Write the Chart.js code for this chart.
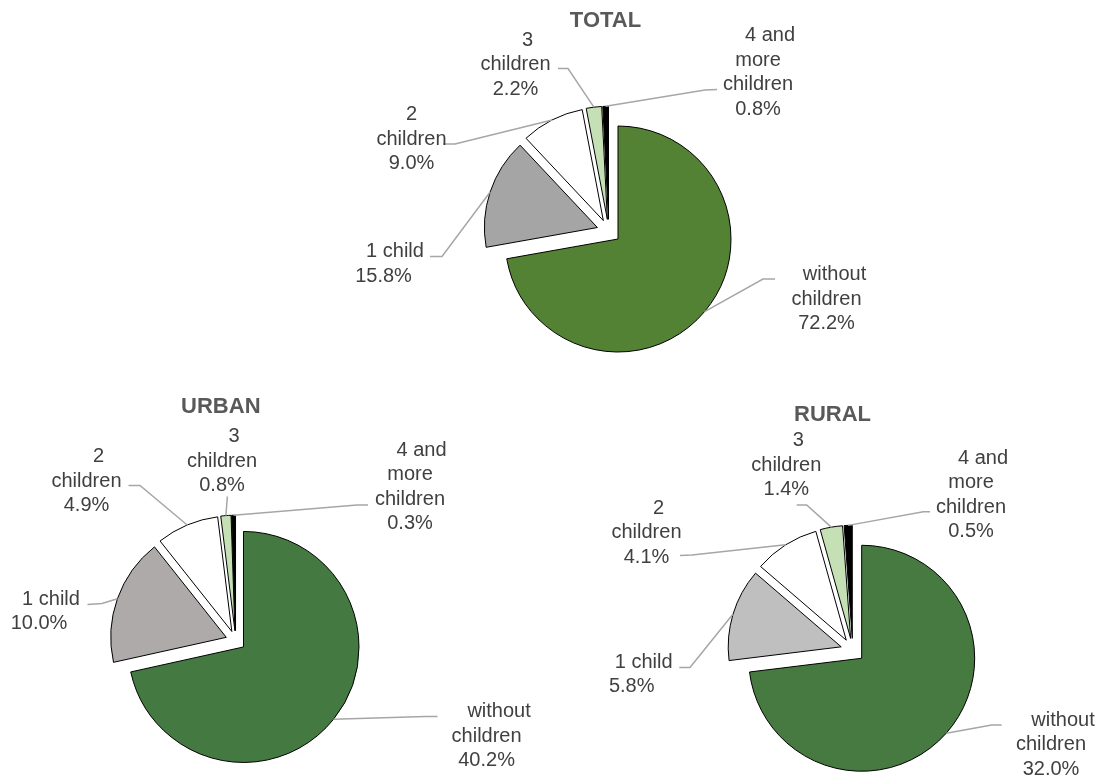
<!DOCTYPE html>
<html>
<head>
<meta charset="utf-8">
<script src="https://cdn.jsdelivr.net/npm/chart.js@4.4.1/dist/chart.umd.min.js"></script>
<style>
  html, body { margin: 0; padding: 0; background: #fff; }
  #wrap { position: relative; width: 1102px; height: 776px; }
  #wrap canvas { position: absolute; left: 0; top: 0; }
</style>
</head>
<body>
<div id="wrap">
  <canvas id="total-chart" width="1102" height="776"></canvas>
  <canvas id="urban-chart" width="1102" height="776"></canvas>
  <canvas id="rural-chart" width="1102" height="776"></canvas>
</div>
<script>
// Data
const categories = ['without children', '1 child', '2 children', '3 children', '4 and more children'];
const labelLines = [['without', 'children'], ['1 child'], ['2', 'children'], ['3', 'children'], ['4 and', 'more', 'children']];
const totalValues = [72.2, 15.8, 9.0, 2.2, 0.8];
const urbanValues = [40.2, 10.0, 4.9, 0.8, 0.3];
const ruralValues = [32.0, 5.8, 4.1, 1.4, 0.5];

const totalColors = ['#548235', '#a5a5a5', '#ffffff', '#c5e0b4', '#000000'];
const urbanColors = ['#447a41', '#aeaaaa', '#ffffff', '#c5e0b4', '#000000'];
const ruralColors = ['#467a41', '#bfbfbf', '#ffffff', '#c5e0b4', '#000000'];

const FONT = '"Liberation Sans", Arial, sans-serif';
const LINE_H = 24.5;

// Page layout of each pie: centre, radius, explode distance, title and label boxes
const pies = [
    {
        id: 'total-chart', title: 'TOTAL', values: totalValues, colors: totalColors,
        cx: 608.8, cy: 231.3, r: 113, explode: 12, titleAt: [605.5, 19.3],
        labels: [
            { x: 826.5, y: 273, shift: 8, end: [775, 279], elbow: [763, 279] },
            { x: 383.5, y: 250, shift: 11.5, end: [430, 256.5], elbow: [442, 256.5] },
            { x: 411.5, y: 113, shift: 0, end: [443, 144], elbow: [455, 144] },
            { x: 515.5, y: 38.5, shift: 12, end: [558, 68.5], elbow: [568, 68.5] },
            { x: 758, y: 34, shift: 12, end: [717, 89.5], elbow: [705, 90] }
        ]
    },
    {
        id: 'urban-chart', title: 'URBAN', values: urbanValues, colors: urbanColors,
        cx: 235.7, cy: 640.7, r: 115.5, explode: 10, titleAt: [220.8, 405],
        labels: [
            { x: 486.6, y: 710, shift: 12.5, end: [437.5, 716.5], elbow: [425, 716.5] },
            { x: 39, y: 597.5, shift: 12, end: [87.5, 604.5], elbow: [102, 603.5] },
            { x: 86.5, y: 455, shift: 12, end: [128.5, 485.5], elbow: [140, 485.5] },
            { x: 222, y: 435, shift: 12, end: [227.3, 496.5], elbow: [227.3, 497.5] },
            { x: 410, y: 448.5, shift: 11.5, end: [368, 505], elbow: [357, 505] }
        ]
    },
    {
        id: 'rural-chart', title: 'RURAL', values: ruralValues, colors: ruralColors,
        cx: 852.7, cy: 650.3, r: 113, explode: 12, titleAt: [832.5, 413.3],
        labels: [
            { x: 1051, y: 718.5, shift: 12, end: [1001.7, 725], elbow: [991.7, 725] },
            { x: 631.7, y: 660.5, shift: 12, end: [679.3, 667.5], elbow: [690, 667.5] },
            { x: 646.5, y: 506.5, shift: 12, end: [680, 555.5], elbow: [692, 555] },
            { x: 786.3, y: 439.3, shift: 12, end: [796.7, 505], elbow: [806.7, 505] },
            { x: 971, y: 456.7, shift: 12, end: [930, 511.7], elbow: [923.3, 511.7] }
        ]
    }
];

// point on the outer edge of an exploded slice, at its mid angle
function anchorOf(arc, explode) {
    const mid = (arc.startAngle + arc.endAngle) / 2;
    const rr = arc.outerRadius + explode;
    return [arc.x + Math.cos(mid) * rr, arc.y + Math.sin(mid) * rr];
}

function buildChart(pie) {
    const ctx = document.getElementById(pie.id).getContext('2d');
    const side = 2 * pie.r + 1;
    const left = pie.cx - pie.r - 0.5;
    const top = pie.cy - pie.r - 0.5;

    // move every slice out along its mid angle
    const explodePlugin = {
        id: 'explode',
        beforeDatasetDraw(chart, args) {
            const c = chart.ctx;
            args.meta.data.forEach(arc => {
                const mid = (arc.startAngle + arc.endAngle) / 2;
                c.save();
                c.translate(Math.cos(mid) * pie.explode, Math.sin(mid) * pie.explode);
                arc.draw(c);
                c.restore();
            });
            return false;
        }
    };

    // title, data labels and leader lines
    const labelPlugin = {
        id: 'pieLabels',
        afterDatasetsDraw(chart) {
            const c = chart.ctx;
            const arcs = chart.getDatasetMeta(0).data;
            c.save();

            c.strokeStyle = '#a6a6a6';
            c.lineWidth = 1.5;
            pie.labels.forEach((lab, i) => {
                const a = anchorOf(arcs[i], pie.explode);
                c.beginPath();
                c.moveTo(lab.end[0], lab.end[1]);
                c.lineTo(lab.elbow[0], lab.elbow[1]);
                c.lineTo(a[0], a[1]);
                c.stroke();
            });

            c.fillStyle = '#404040';
            c.font = '20px ' + FONT;
            c.textAlign = 'center';
            c.textBaseline = 'alphabetic';
            pie.labels.forEach((lab, i) => {
                const lines = labelLines[i].concat([pie.values[i].toFixed(1) + '%']);
                lines.forEach((t, k) => {
                    const dx = k === 0 ? lab.shift : 0;
                    c.fillText(t, lab.x + dx, lab.y + k * LINE_H + 7);
                });
            });

            c.fillStyle = '#595959';
            c.font = 'bold 22px ' + FONT;
            c.fillText(pie.title, pie.titleAt[0], pie.titleAt[1] + 8);
            c.restore();
        }
    };

    return new Chart(ctx, {
        type: 'pie',
        data: {
            labels: categories,
            datasets: [{
                data: pie.values,
                backgroundColor: pie.colors,
                borderColor: '#000000',
                borderWidth: 1,
                hoverBorderWidth: 1,
                borderJoinStyle: 'miter'
            }]
        },
        options: {
            responsive: false,
            animation: false,
            events: [],
            layout: {
                padding: {
                    left: left,
                    top: top,
                    right: 1102 - left - side,
                    bottom: 776 - top - side
                }
            },
            plugins: {
                legend: { display: false },
                tooltip: { enabled: false }
            }
        },
        plugins: [explodePlugin, labelPlugin]
    });
}

pies.forEach(buildChart);
</script>
</body>
</html>
